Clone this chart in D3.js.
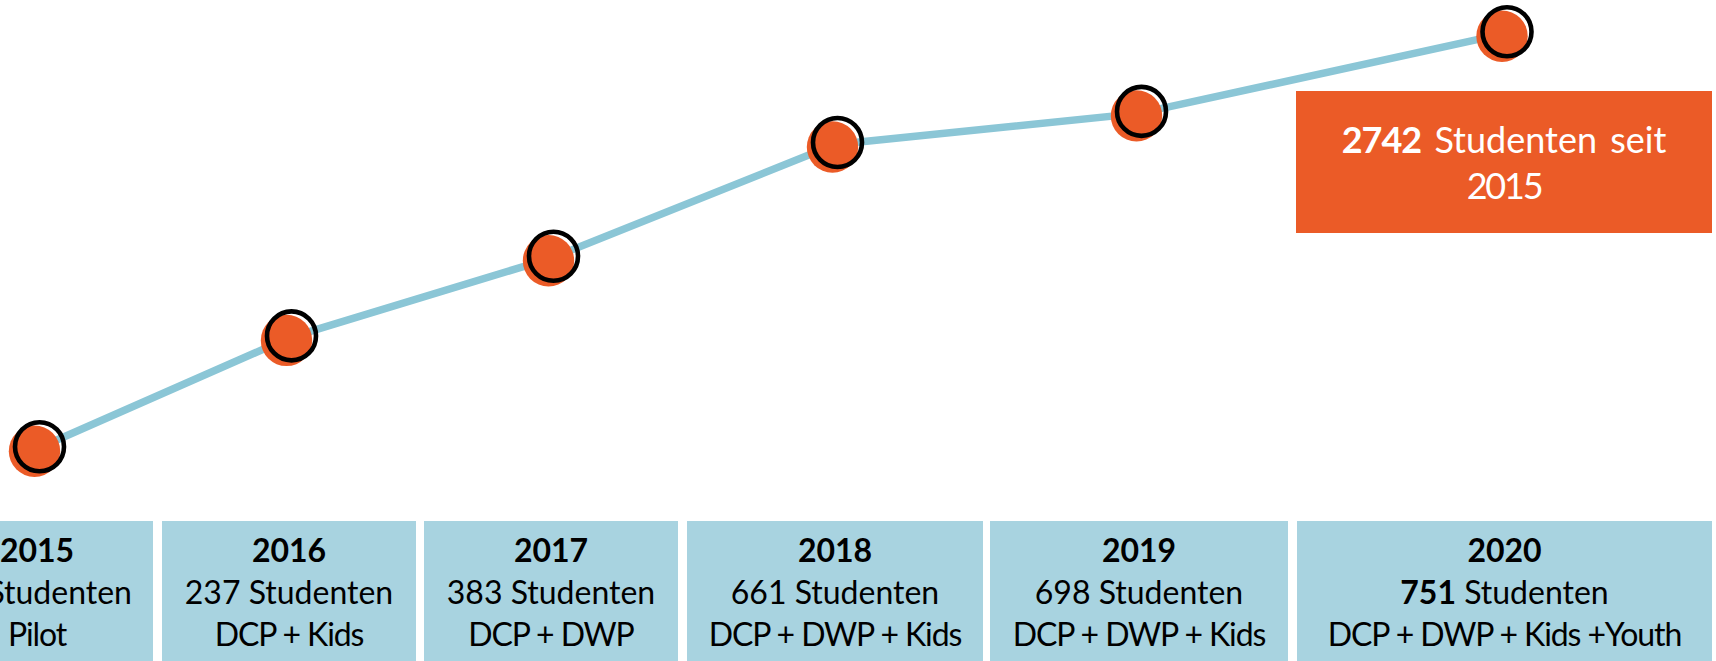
<!DOCTYPE html>
<html>
<head>
<meta charset="utf-8">
<script src="https://cdn.jsdelivr.net/npm/d3@7/dist/d3.min.js"></script>
<style>
  html, body { margin: 0; padding: 0; background: #ffffff; }
  svg { display: block; font-family: Lato, "Noto Sans", sans-serif; }
</style>
</head>
<body>
<svg id="chart" width="1716" height="661"></svg>
<script>
// ---- data ----
const years = ["2015", "2016", "2017", "2018", "2019", "2020"];
const students = [12, 237, 383, 661, 698, 751];
const programs = ["Pilot", "DCP + Kids", "DCP + DWP", "DCP + DWP + Kids", "DCP + DWP + Kids", "DCP + DWP + Kids +Youth"];
// height of each point on the growth line (0 = lowest, 100 = highest)
const levels = [0, 26.7, 45.9, 73.3, 80.8, 100];
const totalStudents = 2742;
const sinceYear = "2015";
const unitLabel = "Studenten";

// ---- layout ----
const boxEdges = [[-79, 153], [162, 416], [424, 678], [687, 983], [990, 1288], [1297, 1712]];
const W = 1716, H = 661;
const C = { orange: "#eb5b27", line: "#8bc6d6", box: "#a8d3e0", ring: "#000000" };

const svg = d3.select("#chart");

const x = d3.scaleOrdinal()
  .domain(years)
  .range(boxEdges.map(e => (e[0] + e[1]) / 2));
const y = d3.scaleLinear().domain([0, 100]).range([448.7, 33.7]);

const pts = years.map((yr, i) => ({ yr, v: students[i], lv: levels[i], prog: programs[i], edge: boxEdges[i], i }));

// line
svg.append("path")
  .datum(pts)
  .attr("fill", "none")
  .attr("stroke", C.line)
  .attr("stroke-width", 7.5)
  .attr("d", d3.line().x(d => x(d.yr)).y(d => y(d.lv)));

// orange dots
svg.append("g").selectAll("circle").data(pts).join("circle")
  .attr("cx", d => x(d.yr) - 2.5)
  .attr("cy", d => y(d.lv) + 2.5)
  .attr("r", 25.7)
  .attr("fill", C.orange);

// black rings
svg.append("g").selectAll("circle").data(pts).join("circle")
  .attr("cx", d => x(d.yr) + 2.5)
  .attr("cy", d => y(d.lv) - 2)
  .attr("r", 24.5)
  .attr("fill", "none")
  .attr("stroke", C.ring)
  .attr("stroke-width", 4.6);

// bottom boxes
const boxes = svg.append("g").selectAll("g").data(pts).join("g");
boxes.append("rect")
  .attr("x", d => d.edge[0])
  .attr("y", 521)
  .attr("width", d => d.edge[1] - d.edge[0])
  .attr("height", H - 521)
  .attr("fill", C.box);

boxes.append("text")
  .attr("x", d => x(d.yr)).attr("y", 562)
  .attr("text-anchor", "middle")
  .attr("font-size", 32).attr("font-weight", 700).attr("fill", "#000")
  .text(d => d.yr);

const l2 = boxes.append("text")
  .attr("x", d => x(d.yr)).attr("y", 603.5)
  .attr("text-anchor", "middle")
  .attr("font-size", 32).attr("fill", "#000");
l2.append("tspan")
  .attr("font-weight", d => d.i === pts.length - 1 ? 700 : 400)
  .text(d => d.v);
l2.append("tspan").text(" " + unitLabel);

boxes.append("text")
  .attr("x", d => x(d.yr)).attr("y", 646)
  .attr("text-anchor", "middle")
  .attr("font-size", 32).attr("fill", "#000")
  .attr("letter-spacing", -1.1)
  .text(d => d.prog);

// total callout
const callout = svg.append("g");
callout.append("rect")
  .attr("x", 1296).attr("y", 91).attr("width", 416).attr("height", 142)
  .attr("fill", C.orange);
const ct = callout.append("text")
  .attr("x", 1504).attr("y", 152.7)
  .attr("text-anchor", "middle")
  .attr("word-spacing", 4)
  .attr("font-size", 36).attr("fill", "#fff");
ct.append("tspan").attr("font-weight", 700).attr("letter-spacing", -1).text(totalStudents);
ct.append("tspan").text(" " + unitLabel + " seit");
callout.append("text")
  .attr("x", 1504).attr("y", 199.3)
  .attr("text-anchor", "middle")
  .attr("letter-spacing", -2.2)
  .attr("font-size", 36).attr("fill", "#fff")
  .text(sinceYear);
</script>
</body>
</html>
